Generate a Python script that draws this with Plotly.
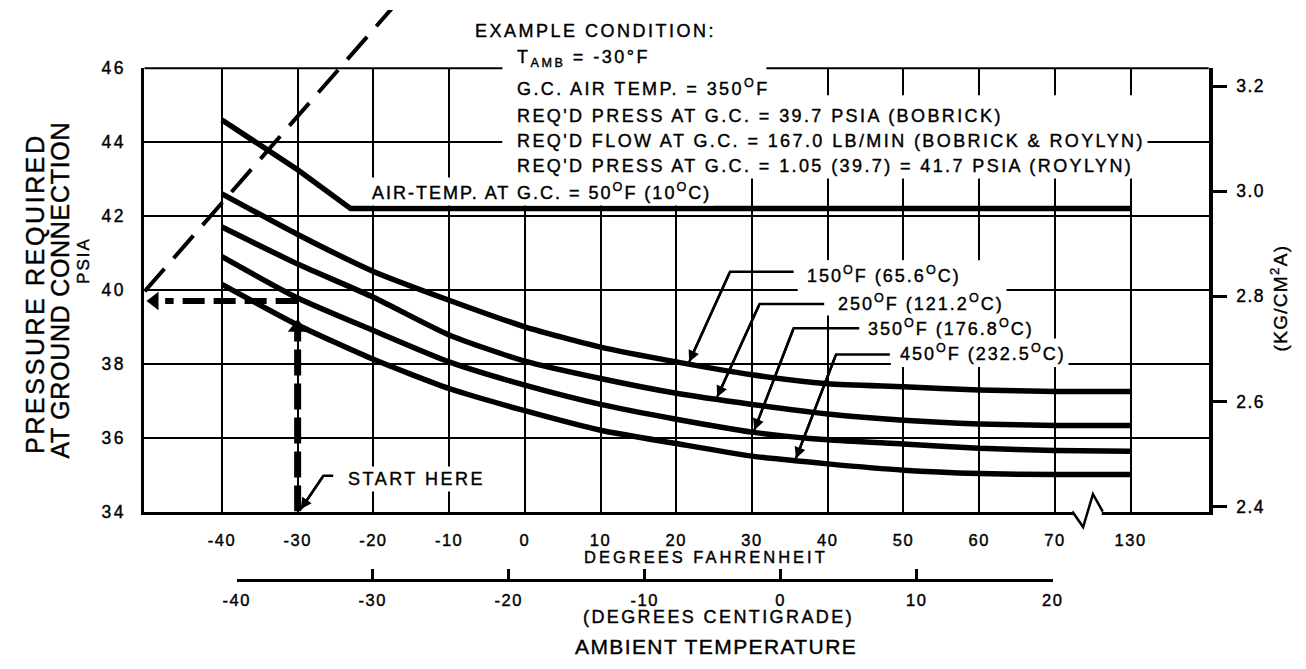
import numpy as np
import plotly.graph_objects as go

# ambient temperature, deg F (130 sits after the axis break)
amb_f = [-40, -30, -20, -10, 0, 10, 20, 30, 40, 50, 60, 70, 130]

# required pressure at ground connection, psia, per G.C. air temp
gc_temps_f = [150, 250, 350, 450]
gc_temps_c = ["65.6", "121.2", "176.8", "232.5"]
p_150 = [42.6, 41.5, 40.5, 39.72, 39.0, 38.45, 38.05, 37.7, 37.46, 37.38, 37.29, 37.25, 37.25]
p_250 = [41.7, 40.7, 39.8, 38.78, 38.07, 37.6, 37.2, 36.9, 36.64, 36.47, 36.37, 36.33, 36.33]
p_350 = [40.9, 39.78, 38.9, 38.05, 37.42, 36.9, 36.5, 36.15, 35.94, 35.83, 35.71, 35.65, 35.63]
p_450 = [40.15, 39.05, 38.12, 37.33, 36.73, 36.2, 35.84, 35.5, 35.29, 35.12, 35.03, 35.0, 35.0]

# 50F (10C) curve: straight drop to a knee then flat
low_f, low_c = 50, 10
amb_50 = [-40, -30, -23, 70, 130]
p_50 = [44.6, 43.25, 42.2, 42.2, 42.2]

f_ticks = [-40, -30, -20, -10, 0, 10, 20, 30, 40, 50, 60, 70, 130]
c_ticks = [-40, -30, -20, -10, 0, 10, 20]
psi_ticks = [34, 36, 38, 40, 42, 44, 46]
kg_ticks = [2.4, 2.6, 2.8, 3.0, 3.2]
PSI_TO_KG = 0.070307

# example condition
t_amb = -30
gc_air = 350
press_bob = 39.7
flow = 167.0
roylyn_factor = 1.05
press_roy = 41.7
arrow_up_tip = 39.15

# dashed guide line running off the top of the chart
diag_f = [-50.2, -15.5]
diag_p = [39.96, 48.1]

W, H = 1306, 669
FONT = "Liberation Sans"


def brk(t):
    # axis is broken between 70 and 130
    return t if t <= 70 else t - 50


def px(x):
    return x / W


def py(y):
    return 1 - y / H


def ls(s, sp):
    # wide letter spacing plus a hairline stroke to mimic the heavy printed type
    return f"<span style='letter-spacing:{sp}px;stroke:black;stroke-width:0.4px'>{s}</span>"


slots = [brk(t) for t in amb_f]
curves = [p_150, p_250, p_350, p_450]

fig = go.Figure()
for vals in curves:
    fig.add_trace(go.Scatter(x=slots, y=vals, mode="lines",
                             line=dict(color="black", width=5.5, shape="spline", smoothing=0.6),
                             hoverinfo="skip", showlegend=False))
fig.add_trace(go.Scatter(x=[brk(t) for t in amb_50], y=p_50, mode="lines",
                         line=dict(color="black", width=5.5), hoverinfo="skip", showlegend=False))

# example: up from T_amb, across to the pressure scale
fig.add_trace(go.Scatter(x=[t_amb, t_amb], y=[34, arrow_up_tip - 0.2], mode="lines",
                         line=dict(color="black", width=7, dash="26px,8px"), showlegend=False))
fig.add_trace(go.Scatter(x=[t_amb], y=[arrow_up_tip - 0.17], mode="markers",
                         marker=dict(symbol="triangle-up", size=17, color="black"), showlegend=False))
fig.add_trace(go.Scatter(x=[t_amb, -47.5], y=[press_bob, press_bob], mode="lines",
                         line=dict(color="black", width=6, dash="22px,9px"), showlegend=False))
fig.add_trace(go.Scatter(x=[-48.9], y=[press_bob], mode="markers",
                         marker=dict(symbol="triangle-left", size=16, color="black"), showlegend=False))

# diagonal guide on a taller invisible subplot so it can leave the frame
fig.add_trace(go.Scatter(x=diag_f, y=diag_p, xaxis="x3", yaxis="y3", mode="lines",
                         line=dict(color="black", width=4, dash="30px,14px"), showlegend=False))

# dummy traces so the extra axes get drawn
fig.add_trace(go.Scatter(x=c_ticks, y=[40] * len(c_ticks), xaxis="x2", yaxis="y", mode="markers",
                         marker=dict(opacity=0), hoverinfo="skip", showlegend=False))
fig.add_trace(go.Scatter(x=[0, 0], y=[34 * PSI_TO_KG, 46 * PSI_TO_KG], xaxis="x", yaxis="y2",
                         mode="markers", marker=dict(opacity=0), hoverinfo="skip", showlegend=False))

annotations = []


def note(text, x, y, size, sp, xanchor="left", angle=0, bg=True):
    annotations.append(dict(text=ls(text, sp), x=px(x), y=py(y), xref="paper", yref="paper",
                            xanchor=xanchor, yanchor="middle", showarrow=False, textangle=angle,
                            font=dict(family=FONT, size=size, color="black"),
                            bgcolor="white" if bg else "rgba(0,0,0,0)", borderpad=2))


def arrow(tip, bend):
    annotations.append(dict(x=tip[0], y=tip[1], ax=bend[0], ay=bend[1], xref="x", yref="y",
                            axref="x", ayref="y", text="", showarrow=True, arrowhead=2,
                            arrowsize=0.9, arrowwidth=2.5, arrowcolor="black", standoff=0))


# curve labels with bent leaders
label_pos = [(805, 273), (837, 301), (868, 327), (900, 353)]
leaders = [((35.5, 40.49), (27.1, 40.49), 21.7),
           ((40.0, 39.62), (31.0, 39.62), 25.4),
           ((44.2, 38.96), (35.5, 38.96), 30.3),
           ((48.2, 38.25), (41.1, 38.25), 35.8)]
for i, (start, bend, tip_t) in enumerate(leaders):
    tip = (tip_t, float(np.interp(tip_t, slots, curves[i])) + 0.06)
    fig.add_trace(go.Scatter(x=[start[0], bend[0], tip[0]], y=[start[1], bend[1], tip[1]],
                             mode="lines", line=dict(color="black", width=2.5),
                             hoverinfo="skip", showlegend=False))
    arrow(tip, bend)
    note(f"{gc_temps_f[i]}<sup>O</sup>F ({gc_temps_c[i]}<sup>O</sup>C)",
         label_pos[i][0], label_pos[i][1], 18, 2)

# START HERE leader
sh = [(-25.3, 34.97), (-26.6, 34.97), (-29.6, 34.06)]
fig.add_trace(go.Scatter(x=[p[0] for p in sh], y=[p[1] for p in sh], mode="lines",
                         line=dict(color="black", width=2.5), hoverinfo="skip", showlegend=False))
arrow(sh[2], sh[1])
note("START HERE", 337, 483, 18, 2.5)

# example condition block
note("EXAMPLE CONDITION:", 467, 22, 18, 2.5)
note(f"T<sub>AMB</sub> = {t_amb}°F", 510, 50, 18, 2.5)
note(f"G.C. AIR TEMP. = {gc_air}<sup>O</sup>F", 510, 80, 18, 2.4)
note(f"REQ'D PRESS AT G.C. = {press_bob} PSIA (BOBRICK)", 510, 109, 18, 2.4)
note(f"REQ'D FLOW AT G.C. = {flow:.1f} LB/MIN (BOBRICK & ROYLYN)", 510, 135, 18, 2.4)
note(f"REQ'D PRESS AT G.C. = {roylyn_factor} ({press_bob}) = {press_roy} PSIA (ROYLYN)",
     510, 161, 18, 2.4)
note(f"AIR-TEMP. AT G.C. = {low_f}<sup>O</sup>F ({low_c}<sup>O</sup>C)", 362, 187, 18, 2)

# axis titles
note("PRESSURE REQUIRED", 22, 292, 25, 2.6, "center", -90, False)
note("AT GROUND CONNECTION", 47, 289, 25, 0.7, "center", -90, False)
note("PSIA", 71, 258, 17, 2, "center", -90, False)
note("(KG/CM<sup>2</sup>A)", 1290, 297, 19, 1.3, "center", -90, False)
note("DEGREES FAHRENHEIT", 706, 564, 16.5, 3, "center", 0, False)
note("(DEGREES CENTIGRADE)", 718, 626, 18, 2.4, "center", 0, False)
note("AMBIENT TEMPERATURE", 716, 656, 21, 1.4, "center", 0, False)

shapes = []


def rect(x0, y0, x1, y1):
    shapes.append(dict(type="rect", xref="paper", yref="paper", x0=px(x0), x1=px(x1),
                       y0=py(y1), y1=py(y0), fillcolor="white", line=dict(width=0), layer="above"))


# top frame line
shapes.append(dict(type="line", xref="paper", yref="paper", x0=px(133), x1=px(1218),
                   y0=py(60), y1=py(60), line=dict(color="black", width=2), layer="above"))
# white areas behind the text blocks
rect(498, 30, 767, 172)
rect(498, 88, 1150, 172)
rect(358, 174, 712, 199)
rect(799, 258, 1008, 290)
rect(826, 288, 1006, 315)
rect(862, 314, 1037, 340)
rect(894, 340, 1071, 368)
# axis break
rect(1080, 511, 1109, 523)
zig = [(1079, 517), (1090, 533), (1100, 499), (1110, 517)]
path = "M " + " L ".join(f"{px(x):.5f},{py(y):.5f}" for x, y in zig)
shapes.append(dict(type="path", xref="paper", yref="paper", path=path,
                   line=dict(color="black", width=2.5), layer="above"))

x_dom = [px(133), px(1218)]
x_rng = [-50.23, 90.31]
tickfont = dict(family=FONT, size=16.5, color="black")

fig.update_layout(
    width=W, height=H, autosize=False,
    margin=dict(l=0, r=0, t=0, b=0),
    paper_bgcolor="white", plot_bgcolor="rgba(0,0,0,0)",
    showlegend=False,
    xaxis=dict(domain=x_dom, range=x_rng, anchor="y",
               tickvals=[brk(t) for t in f_ticks], ticktext=[ls(str(t), 1.5) for t in f_ticks],
               tickfont=tickfont, ticks="", ticklabelstandoff=12,
               showgrid=True, gridcolor="black", gridwidth=1.6, zeroline=False,
               showline=True, linecolor="black", linewidth=3),
    yaxis=dict(domain=[py(517), py(60)], range=[34, 46], anchor="x",
               tickvals=psi_ticks, ticktext=[ls(str(t), 2.5) for t in psi_ticks],
               tickfont=dict(family=FONT, size=17.5, color="black"), ticks="", ticklabelstandoff=12,
               showgrid=True, gridcolor="black", gridwidth=1.6, zeroline=False,
               showline=True, linecolor="black", linewidth=3),
    yaxis2=dict(overlaying="y", side="right", anchor="x",
                range=[34 * PSI_TO_KG, 46 * PSI_TO_KG],
                tickvals=kg_ticks, ticktext=[ls(f"{v:.1f}", 1.5) for v in kg_ticks],
                tickfont=dict(family=FONT, size=17.5, color="black"),
                ticks="outside", ticklen=14, tickwidth=3, tickcolor="black", ticklabelstandoff=6,
                showgrid=False, zeroline=False, showline=True, linecolor="black", linewidth=4),
    xaxis2=dict(domain=[px(227), px(1059)], anchor="free", position=py(588), side="bottom",
                range=[-40, 20], tickvals=c_ticks, ticktext=[ls(str(t), 1.5) for t in c_ticks],
                tickfont=tickfont, ticks="inside", ticklen=10, tickwidth=2.5, tickcolor="black",
                ticklabelstandoff=4, showgrid=False, zeroline=False,
                showline=True, linecolor="black", linewidth=3),
    xaxis3=dict(domain=x_dom, range=x_rng, anchor="y3", visible=False),
    yaxis3=dict(domain=[py(517), 1], range=[34, 34 + 12 * 517 / 457], anchor="x3", visible=False),
    annotations=annotations,
    shapes=shapes,
)

# pin the figure to the window's top-left corner (no default body margin)
pin = ("document.body.style.margin='0';document.body.style.overflow='hidden';"
       "var d=document.getElementById('{plot_id}');"
       "d.style.position='fixed';d.style.left='0px';d.style.top='0px';")
fig.write_html("out.html", config={"displayModeBar": False}, post_script=pin)
